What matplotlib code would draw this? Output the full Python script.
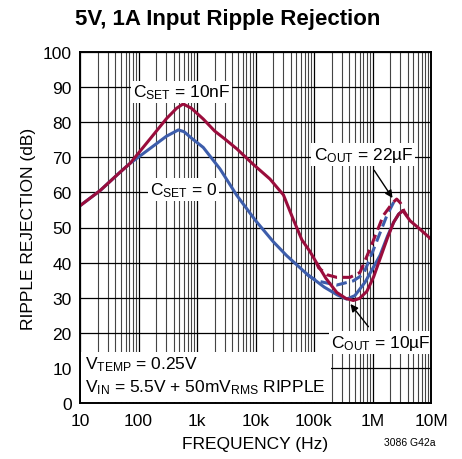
import matplotlib

matplotlib.use("Agg")
import matplotlib.pyplot as plt
from matplotlib.patches import Rectangle
from matplotlib.ticker import FixedLocator, NullFormatter

FONT = ["Liberation Sans Narrow", "Liberation Sans", "DejaVu Sans"]
plt.rcParams["font.family"] = FONT
plt.rcParams["mathtext.fontset"] = "custom"
plt.rcParams["mathtext.rm"] = "Liberation Sans"
plt.rcParams["mathtext.it"] = "Liberation Sans"

RED = "#9a0d3c"
BLUE = "#3d5dab"

# C_SET = 10nF, C_OUT = 10uF
f_set10n = [10, 22, 48, 72, 157, 300, 450, 580, 800, 1.28e3, 2e3, 3e3, 4.8e3, 9e3,
            17.7e3, 26e3, 30e3, 36e3, 44e3, 62e3, 85e3, 110e3, 160e3, 245e3, 350e3,
            470e3, 600e3, 800e3, 1.05e6, 1.34e6, 1.8e6, 2.3e6, 2.8e6, 3.3e6, 4.4e6,
            6.4e6, 10e6]
db_set10n = [56.2, 60.5, 65.7, 68.3, 75.2, 81.0, 84.0, 85.2, 84.0, 80.9, 77.5, 75.2,
             72.4, 68.1, 63.8, 60.5, 59.3, 56.0, 52.4, 46.5, 43.2, 40.0, 35.5, 31.5,
             29.8, 29.2, 29.8, 31.8, 36.0, 41.0, 47.0, 51.5, 53.8, 54.8, 51.9, 49.6,
             46.7]

# C_SET = 0, C_OUT = 10uF
f_set0 = [10, 22, 48, 72, 157, 300, 480, 600, 800, 1.28e3, 2.47e3, 4.77e3, 10e3,
          20e3, 34e3, 75e3, 150e3, 250e3, 362e3, 500e3, 745e3, 1.34e6, 1.8e6, 2.3e6,
          2.8e6, 3.3e6]
db_set0 = [56.2, 60.5, 65.7, 68.3, 72.5, 76.0, 77.8, 77.3, 75.5, 72.8, 66.7, 59.2,
           52.0, 46.0, 42.0, 36.8, 33.0, 30.8, 29.6, 30.6, 34.4, 42.0, 47.5, 51.5,
           53.8, 54.8]

# C_OUT = 22uF branches
f_set10n_22u = [110e3, 120e3, 170e3, 244e3, 412e3, 611e3, 906e3, 1.53e6, 2.2e6,
                2.59e6, 3.0e6, 3.5e6, 3.9e6]
db_set10n_22u = [40.0, 38.5, 36.5, 35.8, 35.8, 37.2, 43.9, 53.4, 57.0, 58.1, 57.0,
                 54.5, 53.3]

f_set0_22u = [75e3, 80e3, 111e3, 244e3, 470e3, 700e3, 1.0e6, 1.76e6, 2.4e6]
db_set0_22u = [36.8, 36.3, 34.8, 33.6, 34.8, 36.7, 43.0, 53.4, 57.8]

x_ticks = [10, 100, 1e3, 1e4, 1e5, 1e6, 1e7]
x_labels = ["10", "100", "1k", "10k", "100k", "1M", "10M"]
y_ticks = list(range(0, 101, 10))

fig = plt.figure(figsize=(4.62, 4.60), dpi=100)
ax = fig.add_axes([80 / 462, 56 / 460, 351 / 462, 351 / 460])
ax.set_xscale("log")
ax.set_xlim(10, 1e7)
ax.set_ylim(0, 100)

# log grid: every 2..9 inside each decade
minor_x = [m * d for d in x_ticks[:-1] for m in range(2, 10)]
ax.xaxis.set_major_locator(FixedLocator(x_ticks))
ax.set_xticklabels(x_labels)
ax.xaxis.set_minor_locator(FixedLocator(minor_x))
ax.xaxis.set_minor_formatter(NullFormatter())
ax.set_yticks(y_ticks)
ax.tick_params(axis="both", which="both", length=0, labelsize=12.5)
ax.tick_params(axis="y", pad=6)
ax.tick_params(axis="x", pad=7)
ax.grid(True, which="major", color="black", linewidth=0.9)
ax.grid(True, which="minor", axis="x", color="#444444", linewidth=0.8)
ax.set_axisbelow(True)
for sp in ax.spines.values():
    sp.set_linewidth(1.4)
    sp.set_zorder(6)

lw = 2.2
ax.plot(f_set0_22u, db_set0_22u, color=BLUE, lw=lw, ls=(0, (3.5, 1.8)), zorder=3)
ax.plot(f_set0, db_set0, color=BLUE, lw=lw, zorder=3, solid_capstyle="round")
ax.plot(f_set10n_22u, db_set10n_22u, color=RED, lw=lw, ls=(0, (3.5, 1.8)), zorder=4)
ax.plot(f_set10n, db_set10n, color=RED, lw=lw, zorder=4, solid_capstyle="round")

box = dict(facecolor="white", edgecolor="none", pad=1.5)
ax.text(543, 88.6, r"C$_{\mathrm{SET}}$ = 10nF", fontsize=12.5, ha="center", va="center",
        bbox=box, zorder=5)
ax.text(588, 60.8, r"C$_{\mathrm{SET}}$ = 0", fontsize=12.5, ha="center", va="center",
        bbox=box, zorder=5)

ax.annotate(r"C$_{\mathrm{OUT}}$ = 22µF", xy=(2.2e6, 58.4), xytext=(7.0e5, 70.9),
            fontsize=12.5, ha="center", va="center", bbox=box, zorder=6,
            arrowprops=dict(arrowstyle="-|>", color="black", lw=1.0, mutation_scale=11,
                            shrinkA=4, shrinkB=0))
ax.annotate(r"C$_{\mathrm{OUT}}$ = 10µF", xy=(4.2e5, 28.2), xytext=(1.4e6, 17.2),
            fontsize=12.5, ha="center", va="center", bbox=box, zorder=6,
            arrowprops=dict(arrowstyle="-|>", color="black", lw=1.0, mutation_scale=11,
                            shrinkA=4, shrinkB=0))

ax.add_patch(Rectangle((10.3, 0.4), 1.95e5 - 10.3, 14.2, facecolor="white",
                       edgecolor="none", zorder=4))
ax.text(12, 11.2, r"V$_{\mathrm{TEMP}}$ = 0.25V", fontsize=12.5, ha="left", va="center",
        zorder=5)
ax.text(12, 4.6, r"V$_{\mathrm{IN}}$ = 5.5V + 50mV$_{\mathrm{RMS}}$ RIPPLE", fontsize=12.5,
        ha="left", va="center", zorder=5)

ax.set_xlabel("FREQUENCY (Hz)", fontsize=12.5, labelpad=6)
ax.set_ylabel("RIPPLE REJECTION (dB)", fontsize=12.5, labelpad=5)
fig.text(228 / 462, 1 - 20 / 460, "5V, 1A Input Ripple Rejection", fontsize=16,
         fontweight="bold", ha="center", va="center")
fig.text(410 / 462, 1 - 443 / 460, "3086 G42a", fontsize=7.5, ha="center", va="center")

fig.savefig("out.png", dpi=100)
